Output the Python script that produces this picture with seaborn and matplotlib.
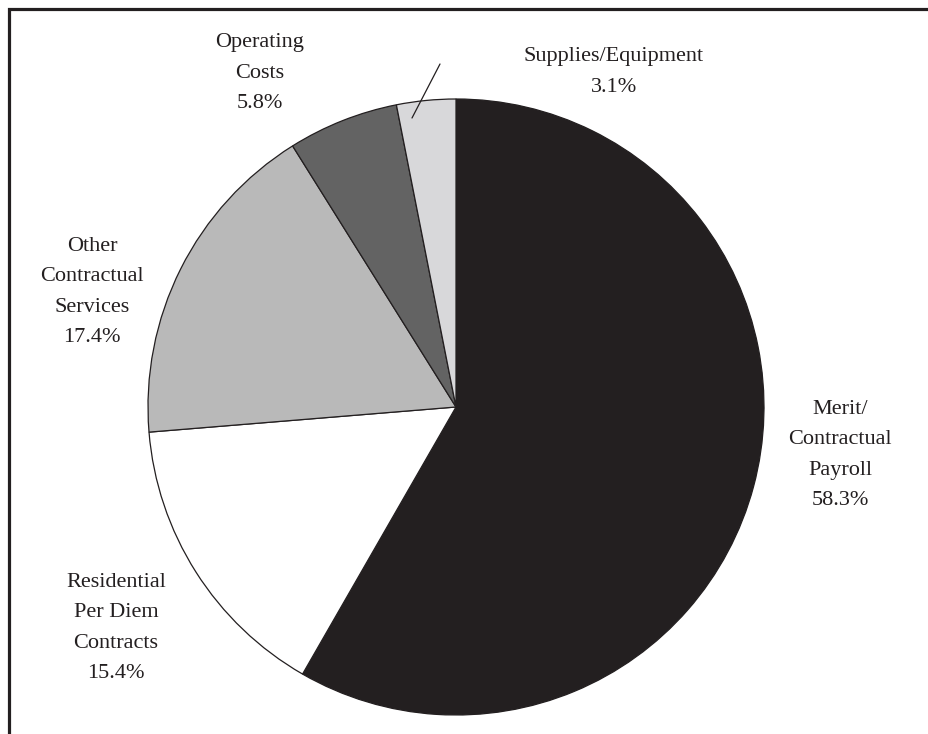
import matplotlib.pyplot as plt
import seaborn as sns

categories = ["Merit/\nContractual\nPayroll", "Residential\nPer Diem\nContracts",
              "Other\nContractual\nServices", "Operating\nCosts", "Supplies/Equipment"]
shares = [58.3, 15.4, 17.4, 5.8, 3.1]
colors = ["#231f20", "#ffffff", "#b9b9b9", "#636363", "#d8d8da"]

sns.set_theme(style="white")
plt.rcParams["font.family"] = ["Liberation Serif", "DejaVu Serif"]

W, H = 929, 734
CX, CY, R = 456, 407, 308

fig = plt.figure(figsize=(W / 100, H / 100), dpi=100)
ax = fig.add_axes([0, 0, 1, 1])

ax.pie(shares, colors=colors, startangle=90, counterclock=False, radius=1,
       wedgeprops=dict(edgecolor="#231f20", linewidth=0.9))
ax.set_aspect("auto")
ax.set_xlim(-CX / R, (W - CX) / R)
ax.set_ylim((CY - H) / R, CY / R)
ax.axis("off")


def px(x, y):
    return (x - CX) / R, (CY - y) / R


# label centres in pixel space of the reference
label_pos = [(840, 455), (116, 628), (92, 292), (260, 73), (614, 72)]
for cat, val, (x, y) in zip(categories, shares, label_pos):
    ax.text(*px(x, y), f"{cat}\n{val}%", ha="center", va="center",
            fontsize=16, linespacing=1.8, color="#231f20")

ax.annotate("", xy=px(412, 118), xytext=px(440, 64),
            arrowprops=dict(arrowstyle="-", color="#231f20", lw=0.9,
                            shrinkA=0, shrinkB=0))

fig.add_artist(plt.Rectangle((8.5 / W, -0.1), 1.2, (H - 8.5) / H + 0.1, fill=False,
                             lw=2.3, edgecolor="#231f20", transform=fig.transFigure))

fig.savefig("out.png", dpi=100)
